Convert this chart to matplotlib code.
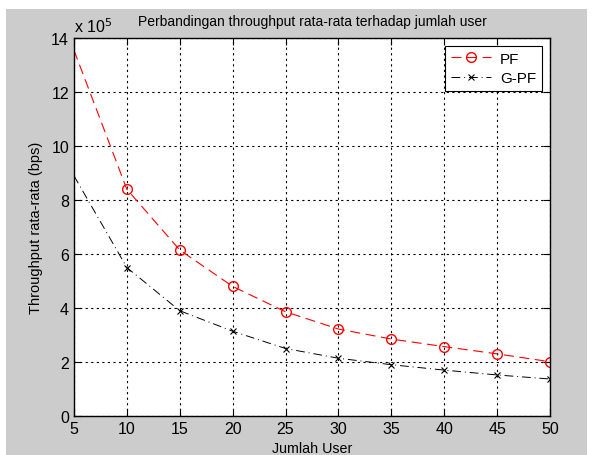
import numpy as np
import matplotlib.pyplot as plt
from matplotlib.patches import Rectangle
from matplotlib.ticker import FuncFormatter

users = [5, 10, 15, 20, 25, 30, 35, 40, 45, 50]
pf = [13.55e5, 8.4e5, 6.15e5, 4.8e5, 3.86e5, 3.22e5, 2.85e5, 2.57e5, 2.3e5, 2.01e5]
gpf = [8.9e5, 5.5e5, 3.9e5, 3.14e5, 2.5e5, 2.14e5, 1.9e5, 1.7e5, 1.52e5, 1.37e5]

plt.rcParams['font.family'] = ['Liberation Sans', 'DejaVu Sans']

fig = plt.figure(figsize=(5.96, 4.56), dpi=100, facecolor='white')
fig.patches.append(Rectangle((6 / 596, 0), 581 / 596, 446 / 456,
                             transform=fig.transFigure, facecolor='#cccccc',
                             edgecolor='none', zorder=-10))
ax = fig.add_axes([0.124, 0.0855, 0.799, 0.829])

ax.plot(users, pf, color='red', linestyle=(0, (9, 5)), linewidth=0.8,
        marker='o', markersize=7, markerfacecolor='none', markeredgecolor='red',
        markeredgewidth=1.0, markevery=range(1, len(users)), label='PF')
ax.plot(users, gpf, color='black', linestyle=(0, (9, 4, 1, 4)), linewidth=0.7,
        marker='x', markersize=5, markeredgewidth=0.8,
        markevery=range(1, len(users)), label='G-PF')

ax.set_xlim(5, 50)
ax.set_ylim(0, 14e5)
ax.set_xticks(np.arange(5, 51, 5))
ax.set_yticks(np.arange(0, 14.1e5, 2e5))
ax.yaxis.set_major_formatter(FuncFormatter(lambda v, p: '%d' % round(v / 1e5)))
ax.grid(True, color='black', linestyle=(0, (2, 3)), linewidth=0.8)
ax.tick_params(direction='in', top=True, right=True, labelsize=11.5, length=5)
for s in ax.spines.values():
    s.set_linewidth(1.0)

ax.text(0.0, 1.008, 'x 10$^5$', transform=ax.transAxes, fontsize=11.5,
        ha='left', va='bottom')
ax.set_title('Perbandingan throughput rata-rata terhadap jumlah user',
             fontsize=10, pad=9)
ax.set_xlabel('Jumlah User', fontsize=10.3, labelpad=4)
ax.set_ylabel('Throughput rata-rata (bps)', fontsize=10.5, labelpad=6)

leg = ax.legend(loc='upper right', fontsize=11, fancybox=False,
                edgecolor='black', framealpha=1, borderaxespad=0.5,
                handlelength=2.6, borderpad=0.4, labelspacing=0.35,
                handletextpad=0.6)
leg.get_frame().set_linewidth(0.8)

fig.savefig('out.png', dpi=100, facecolor=fig.get_facecolor())
